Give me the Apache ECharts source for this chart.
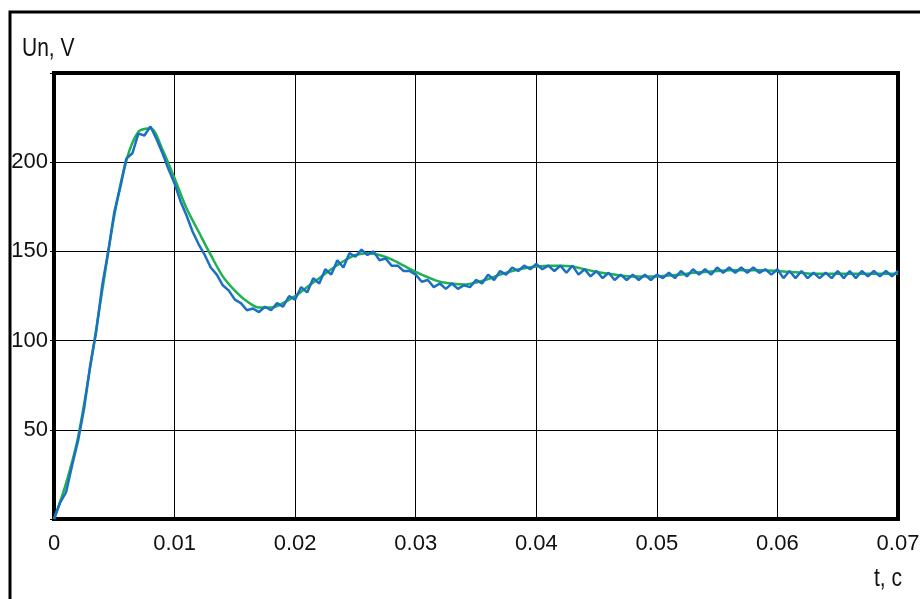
<!DOCTYPE html>
<html>
<head>
<meta charset="utf-8">
<script src="https://cdn.jsdelivr.net/npm/echarts@6/dist/echarts.min.js"></script>
<style>
  html, body { margin: 0; padding: 0; background: #fff; }
  #chart { width: 920px; height: 599px; }
</style>
</head>
<body>
<div id="chart"></div>
<script>
// sampling steps of the two traces, seconds
const greenStep = 0.001
const blueStep = 0.0005

// model response (smooth green trace), V
const greenValues = [
  0, 20, 46, 85, 128, 170, 201, 217, 219, 207,
  191, 174, 161, 148, 136, 128, 122, 118.5, 118.5, 121,
  125, 130, 135, 140, 144.5, 148, 149, 148, 145.5, 142,
  138.5, 135.5, 133, 132, 131.5, 132.5, 134.5, 137, 139, 140.5,
  141.5, 142, 142, 141.5, 140, 138.5, 137.5, 136.5, 136, 136,
  136, 136.5, 137, 138, 138.5, 139, 139.5, 139.5, 139.5, 139.5,
  139, 138.5, 138, 137.5, 137.5, 137.5, 137.5, 137.5, 137.5, 137.5,
  137.5
]

// measured response (blue trace with ripple), V
const blueValues = [
  0, 9, 15, 30, 44, 62, 86, 105, 131, 150,
  172, 186, 202, 205, 216, 215, 220, 213, 205, 196,
  188, 178, 170, 161, 154, 148, 141, 137, 131, 128,
  123, 121, 117, 118, 116, 119, 117, 121, 119, 125,
  123, 130, 127, 135, 132, 140, 137, 145, 141, 149,
  147, 151, 148, 150, 145, 146, 142, 142, 139, 139,
  137, 133, 134, 130, 132, 129, 132, 129, 131, 130,
  134, 132, 137, 134, 139, 137, 141, 139, 142, 140,
  143, 140, 142, 139, 142, 138, 142, 137, 140, 136,
  139, 135, 138, 134, 137, 134, 137, 134, 137, 134,
  137, 135, 138, 135, 139, 136, 140, 137, 140, 137,
  141, 138, 141, 138, 141, 138, 141, 138, 140, 137,
  140, 135, 139, 135, 139, 135, 138, 135, 138, 135,
  139, 135, 139, 135, 139, 136, 139, 136, 139, 136,
  139
]

const xTicks = ['0', '0.01', '0.02', '0.03', '0.04', '0.05', '0.06', '0.07']
const yTicks = ['50', '100', '150', '200']

const font = "'Liberation Sans', Arial, sans-serif"

let chart = echarts.init(document.getElementById('chart'))

let option = {
  backgroundColor: '#fff',
  animation: false,
  grid: {
    left: 54, top: 73, right: 22, bottom: 80,
    outerBoundsMode: 'none',
    containLabel: false,
    show: true,
    borderColor: '#000',
    borderWidth: 4,
    backgroundColor: 'transparent'
  },
  xAxis: {
    type: 'value',
    min: 0, max: 0.07, interval: 0.01,
    axisLine: { show: false },
    axisTick: { show: false },
    splitLine: { show: true, lineStyle: { color: '#000', width: 1 } },
    axisLabel: {
      margin: 14,
      fontFamily: font, fontSize: 22, color: '#111',
      formatter: function (v) {
        let i = Math.round(v / 0.01)
        return xTicks[i] || ''
      }
    }
  },
  yAxis: {
    type: 'value',
    min: 0, max: 250, interval: 50,
    axisLine: { show: false },
    axisTick: { show: true, length: 4, lineStyle: { color: '#000' } },
    splitLine: { show: true, lineStyle: { color: '#000', width: 1 } },
    axisLabel: {
      margin: 6,
      fontFamily: font, fontSize: 22, color: '#111',
      formatter: function (v) {
        return yTicks.indexOf(String(v)) >= 0 ? String(v) : ''
      }
    }
  },
  graphic: [
    {
      type: 'rect', z: -1, silent: true,
      shape: { x: 10, y: 12, width: 940, height: 620 },
      style: { fill: 'none', stroke: '#000', lineWidth: 3 }
    },
    {
      type: 'text', left: 22, top: 36, scaleY: 1.25, originY: 0,
      style: { text: 'Un, V', font: '21px ' + font, fill: '#111' }
    },
    {
      type: 'text', left: 874, top: 566, scaleY: 1.25,
      style: { text: 't, c', font: '21px ' + font, fill: '#111' }
    }
  ],
  series: [
    {
      name: 'model',
      type: 'line',
      showSymbol: false,
      smooth: 0.3,
      lineStyle: { color: '#1fb050', width: 2.5 },
      data: greenValues.map((v, i) => [i * greenStep, v]),
      z: 2
    },
    {
      name: 'measured',
      type: 'line',
      showSymbol: false,
      lineStyle: { color: '#1a70c2', width: 2.5 },
      data: blueValues.map((v, i) => [i * blueStep, v]),
      z: 3
    }
  ]
}

chart.setOption(option)
</script>
</body>
</html>
